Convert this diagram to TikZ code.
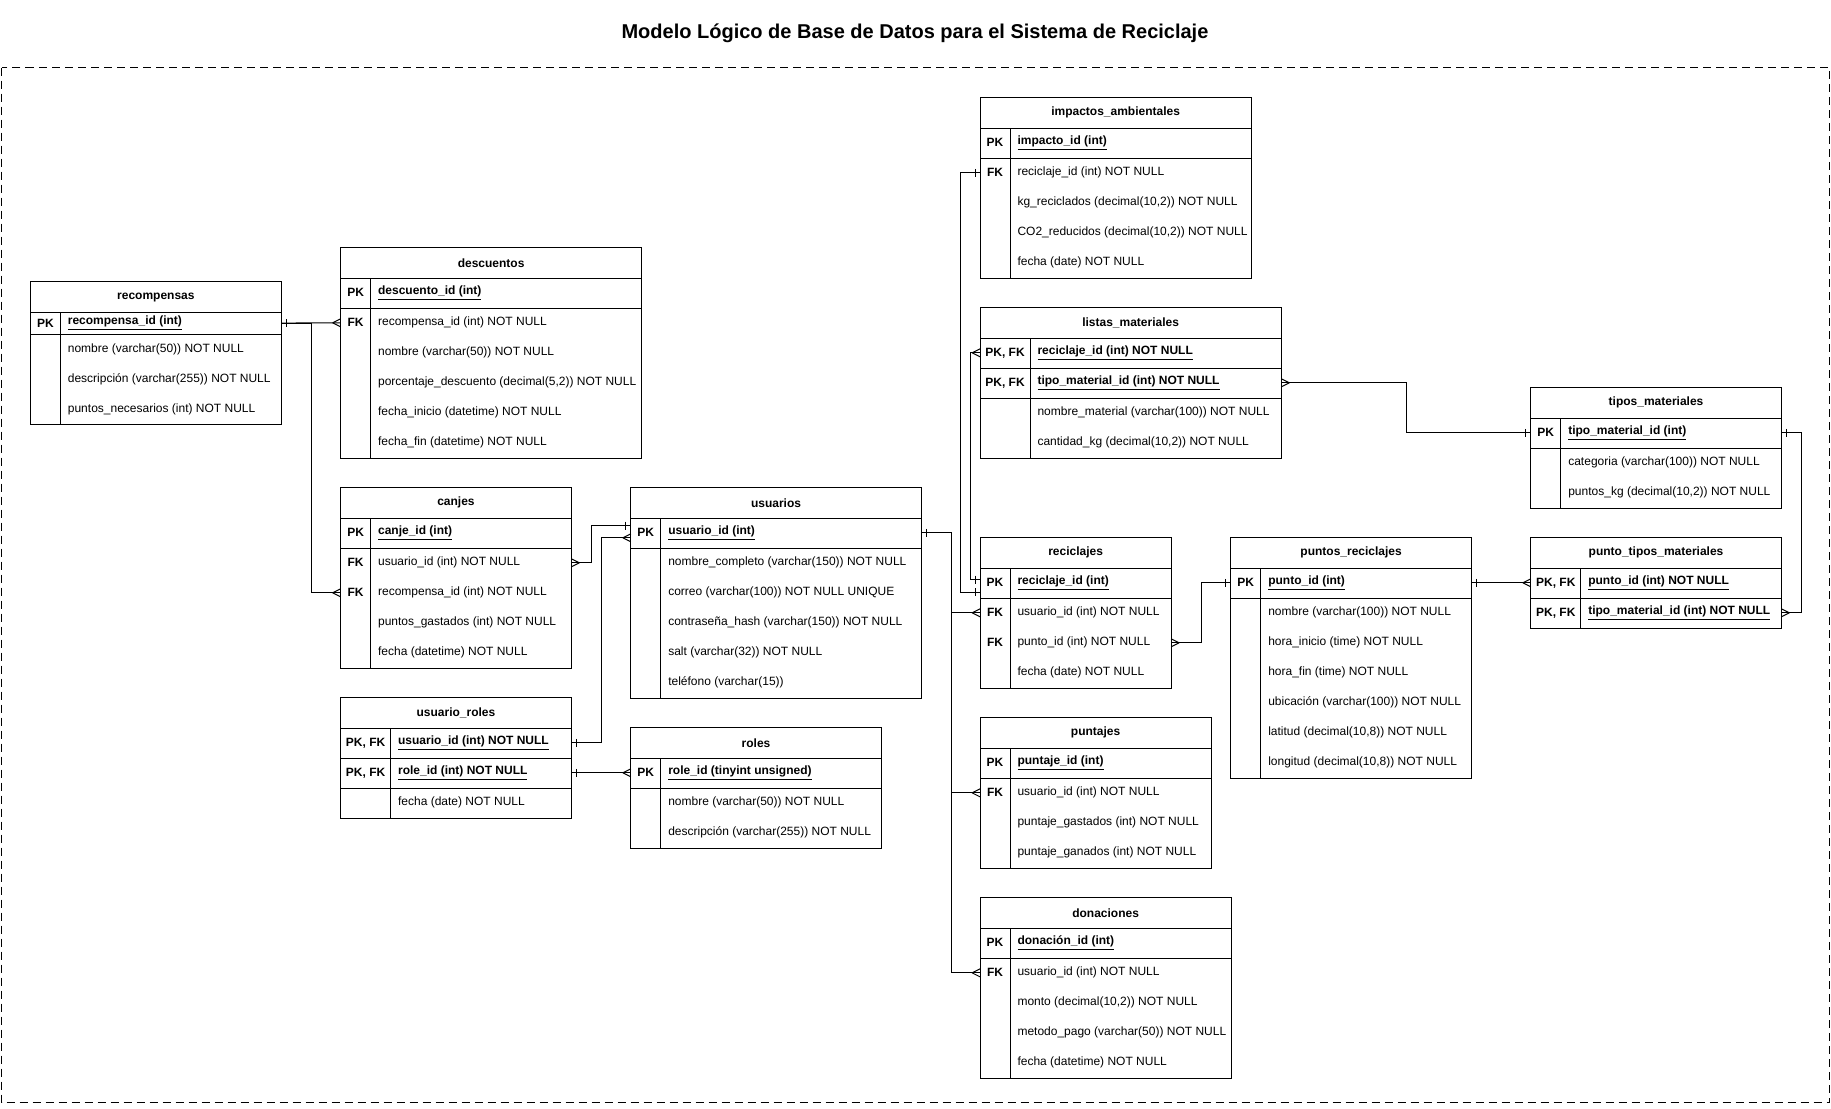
\documentclass[tikz,border=0pt]{standalone}
\usepackage{fontspec}
\setmainfont{Liberation Sans}
\usetikzlibrary{calc}

\def\px{0.75pt}
\newcommand{\erfont}{\fontsize{9}{11}\selectfont}

\tikzset{
  erhead/.style={anchor=north west, inner sep=0pt, minimum height=30*\px, font=\erfont\bfseries},
  errow/.style={anchor=north west, inner sep=0pt},
  erkey/.style={inner sep=0pt, font=\erfont\bfseries},
  erfield/.style={anchor=west, inner sep=0pt, xshift=7*\px, font=\erfont},
  frame/.style={dash pattern=on 6pt off 3.75pt},
}

% table: name, x, y, width, key width, pk rows, pk row height, title, rows
\newcommand{\ertable}[9]{%
  \node[erhead, minimum width=#4*\px] (#1) at (#2,#3) {#8};
  \foreach \k/\f [count=\i] in {#9} {
    \pgfmathsetmacro{\ry}{#3+30+min(\i-1,#6)*#7+max(\i-1-#6,0)*30}
    \pgfmathsetmacro{\rh}{ifthenelse(\i>#6,30,#7)}
    \node[errow, minimum width=#4*\px, minimum height=\rh*\px] (#1-\i) at (#2,\ry) {};
    \node[erkey] at ($(#1-\i.west)+(#5/2,0)$) {\k};
    \ifnum\i>#6
      \node[erfield] at ($(#1-\i.west)+(#5,0)$) {\f};
    \else
      \node[erfield, font=\erfont\bfseries] at ($(#1-\i.west)+(#5,0)$) {\underline{\f}};
      \draw (#1-\i.south west) -- (#1-\i.south east);
    \fi
    \xdef\erlast{\i}
  }
  \draw (#1.north west) rectangle (#1-\erlast.south east);
  \draw (#1.south west) -- (#1.south east);
  \draw ([xshift=#5*\px]#1.south west) -- ([xshift=#5*\px]#1-\erlast.south west);
}

% end marks: point, side (1 = east, -1 = west)
\newcommand{\erone}[2]{\draw #1 ++(5*#2,-4) -- ++(0,8);}
\newcommand{\ermany}[2]{\draw #1 ++(8*#2,0) -- ++(-8*#2,-4) #1 ++(8*#2,0) -- ++(-8*#2,4);}

\begin{document}
\begin{tikzpicture}[x=0.75pt, y=-0.75pt, line width=0.75pt]
  \useasboundingbox (0,0) rectangle (1831,1108);

  \node[font=\bfseries\fontsize{15}{18}\selectfont] (title) at (915,33)
    {Modelo Lógico de Base de Datos para el Sistema de Reciclaje};
  \draw[frame] (1.5,67.5) rectangle (1829.5,1102.5);

  % Tables
  \ertable{recompensas}{30.4}{281.7}{250}{30}{1}{21.7}{recompensas}{
    {PK}/{recompensa\_id (int)},
    {}/{nombre (varchar(50)) NOT NULL},
    {}/{descripción (varchar(255)) NOT NULL},
    {}/{puntos\_necesarios (int) NOT NULL}}

  \ertable{descuentos}{340.6}{247.3}{300}{30}{1}{30}{descuentos}{
    {PK}/{descuento\_id (int)},
    {FK}/{recompensa\_id (int) NOT NULL},
    {}/{nombre (varchar(50)) NOT NULL},
    {}/{porcentaje\_descuento (decimal(5,2)) NOT NULL},
    {}/{fecha\_inicio (datetime) NOT NULL},
    {}/{fecha\_fin (datetime) NOT NULL}}

  \ertable{canjes}{340.6}{487.3}{229.7}{30}{1}{30}{canjes}{
    {PK}/{canje\_id (int)},
    {FK}/{usuario\_id (int) NOT NULL},
    {FK}/{recompensa\_id (int) NOT NULL},
    {}/{puntos\_gastados (int) NOT NULL},
    {}/{fecha (datetime) NOT NULL}}

  \ertable{usuarios}{630.8}{487.3}{289.4}{30}{1}{30}{usuarios}{
    {PK}/{usuario\_id (int)},
    {}/{nombre\_completo (varchar(150)) NOT NULL},
    {}/{correo (varchar(100)) NOT NULL UNIQUE},
    {}/{contraseña\_hash (varchar(150)) NOT NULL},
    {}/{salt (varchar(32)) NOT NULL},
    {}/{teléfono (varchar(15))}}

  \ertable{usroles}{340.6}{697.3}{229.7}{50}{2}{30}{usuario\_roles}{
    {PK, FK}/{usuario\_id (int) NOT NULL},
    {PK, FK}/{role\_id (int) NOT NULL},
    {}/{fecha (date) NOT NULL}}

  \ertable{roles}{630.8}{727.3}{249.5}{30}{1}{30}{roles}{
    {PK}/{role\_id (tinyint unsigned)},
    {}/{nombre (varchar(50)) NOT NULL},
    {}/{descripción (varchar(255)) NOT NULL}}

  \ertable{impactos}{980}{97.3}{270.3}{30}{1}{30}{impactos\_ambientales}{
    {PK}/{impacto\_id (int)},
    {FK}/{reciclaje\_id (int) NOT NULL},
    {}/{kg\_reciclados (decimal(10,2)) NOT NULL},
    {}/{CO2\_reducidos (decimal(10,2)) NOT NULL},
    {}/{fecha (date) NOT NULL}}

  \ertable{listas}{980}{307.3}{300.3}{50}{2}{30}{listas\_materiales}{
    {PK, FK}/{reciclaje\_id (int) NOT NULL},
    {PK, FK}/{tipo\_material\_id (int) NOT NULL},
    {}/{nombre\_material (varchar(100)) NOT NULL},
    {}/{cantidad\_kg (decimal(10,2)) NOT NULL}}

  \ertable{reciclajes}{980}{537.3}{190.2}{30}{1}{30}{reciclajes}{
    {PK}/{reciclaje\_id (int)},
    {FK}/{usuario\_id (int) NOT NULL},
    {FK}/{punto\_id (int) NOT NULL},
    {}/{fecha (date) NOT NULL}}

  \ertable{puntajes}{980}{717.3}{230.3}{30}{1}{30}{puntajes}{
    {PK}/{puntaje\_id (int)},
    {FK}/{usuario\_id (int) NOT NULL},
    {}/{puntaje\_gastados (int) NOT NULL},
    {}/{puntaje\_ganados (int) NOT NULL}}

  \ertable{donaciones}{980}{897.3}{250.3}{30}{1}{30}{donaciones}{
    {PK}/{donación\_id (int)},
    {FK}/{usuario\_id (int) NOT NULL},
    {}/{monto (decimal(10,2)) NOT NULL},
    {}/{metodo\_pago (varchar(50)) NOT NULL},
    {}/{fecha (datetime) NOT NULL}}

  \ertable{puntos}{1230.8}{537.3}{239.6}{30}{1}{30}{puntos\_reciclajes}{
    {PK}/{punto\_id (int)},
    {}/{nombre (varchar(100)) NOT NULL},
    {}/{hora\_inicio (time) NOT NULL},
    {}/{hora\_fin (time) NOT NULL},
    {}/{ubicación (varchar(100)) NOT NULL},
    {}/{latitud (decimal(10,8)) NOT NULL},
    {}/{longitud (decimal(10,8)) NOT NULL}}

  \ertable{tipos}{1530.8}{387.3}{249.5}{30}{1}{30}{tipos\_materiales}{
    {PK}/{tipo\_material\_id (int)},
    {}/{categoria (varchar(100)) NOT NULL},
    {}/{puntos\_kg (decimal(10,2)) NOT NULL}}

  \ertable{ptm}{1530.8}{537.3}{249.5}{50}{2}{30}{punto\_tipos\_materiales}{
    {PK, FK}/{punto\_id (int) NOT NULL},
    {PK, FK}/{tipo\_material\_id (int) NOT NULL}}

  % Attach points off the row centre
  \coordinate (us-a) at ($(usuarios-1.west)+(0,-7.3)$);
  \coordinate (us-b) at ($(usuarios-1.west)+(0,5)$);
  \coordinate (rc-a) at ($(reciclajes-1.west)+(0,-3.3)$);
  \coordinate (rc-b) at ($(reciclajes-1.west)+(0,9.4)$);

  % Relations
  \draw (recompensas-1.east) -- (descuentos-2.west);
  \draw (recompensas-1.east) -- ++(30,0) |- (canjes-3.west);
  \draw (canjes-2.east) -- ++(20.4,0) |- (us-a);
  \draw (usroles-1.east) -- ++(30.4,0) |- (us-b);
  \draw (usroles-2.east) -- (roles-1.west);
  \draw (usuarios-1.east) -- ++(30,0) |- (reciclajes-2.west);
  \draw (usuarios-1.east) -- ++(30,0) |- (puntajes-2.west);
  \draw (usuarios-1.east) -- ++(30,0) |- (donaciones-2.west);
  \draw (impactos-2.west) -- ++(-20,0) |- (rc-b);
  \draw (listas-1.west) -- ++(-9.3,0) |- (rc-a);
  \draw (listas-2.east) -- ++(125.3,0) |- (tipos-1.west);
  \draw (tipos-1.east) -- ++(20,0) |- (ptm-2.east);
  \draw (puntos-1.east) -- (ptm-1.west);
  \draw (reciclajes-3.east) -- ++(30,0) |- (puntos-1.west);

  % End marks
  \erone{(recompensas-1.east)}{1}  \ermany{(descuentos-2.west)}{-1}
  \ermany{(canjes-3.west)}{-1}
  \ermany{(canjes-2.east)}{1}      \erone{(us-a)}{-1}
  \erone{(usroles-1.east)}{1}      \ermany{(us-b)}{-1}
  \erone{(usroles-2.east)}{1}      \ermany{(roles-1.west)}{-1}
  \erone{(usuarios-1.east)}{1}
  \ermany{(reciclajes-2.west)}{-1} \ermany{(puntajes-2.west)}{-1}
  \ermany{(donaciones-2.west)}{-1}
  \erone{(impactos-2.west)}{-1}    \erone{(rc-b)}{-1}
  \ermany{(listas-1.west)}{-1}     \erone{(rc-a)}{-1}
  \ermany{(listas-2.east)}{1}      \erone{(tipos-1.west)}{-1}
  \erone{(tipos-1.east)}{1}        \ermany{(ptm-2.east)}{1}
  \erone{(puntos-1.east)}{1}       \ermany{(ptm-1.west)}{-1}
  \ermany{(reciclajes-3.east)}{1}  \erone{(puntos-1.west)}{-1}
\end{tikzpicture}
\end{document}
